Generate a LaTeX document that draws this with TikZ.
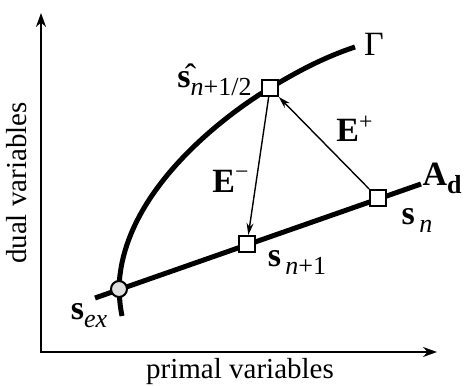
\documentclass[tikz,border=0pt]{standalone}
\usepackage{fontspec}
\setmainfont{Liberation Serif}
\usetikzlibrary{arrows.meta}
\newcommand{\lowsub}[1]{\raisebox{-4pt}{\fontsize{13}{15}\selectfont #1}}
\tikzset{
  state/.style={draw,fill=white,line width=1pt,minimum size=8pt,inner sep=0pt},
  lbl/.style={font=\fontsize{14.5}{17}\selectfont,inner sep=1pt},
  sym/.style={font=\fontsize{17}{19}\selectfont,inner sep=1pt},
  step arrow/.style={line width=0.7pt,-{Stealth[length=6pt,width=3.5pt]}}
}
\begin{document}
\begin{tikzpicture}[x=0.5pt,y=0.5pt]
  \useasboundingbox (0,0) rectangle (464,385);
  % axes
  \coordinate (o) at (41,33);
  \coordinate (ytop) at (41,372);
  \coordinate (xend) at (437,33);
  \draw[line width=1pt,{Stealth[length=7pt,width=5pt]}-{Stealth[length=7pt,width=5pt]}] (ytop) |- (xend);
  \node[lbl,rotate=90] (ylab) at (17,202) {dual variables};
  \node[lbl] (xlab) at (240,13) {primal variables};
  % the two curves
  \coordinate (pex) at (119,96);
  \coordinate (phat) at (270,297);
  \coordinate (pn) at (378,187);
  \coordinate (pn1) at (247,141);
  \draw[line width=2.5pt] (122,69) .. controls (120,80) .. (pex)
    .. controls (121,195) and (230,273) .. (phat)
    .. controls (300,315) and (325,328) .. (355,338);
  \draw[line width=2.5pt] (95,87) -- (421,201);
  \node[sym] (gamma) at (374,341) {Γ};
  \node[sym] (ad) at (442,207) {\textbf{A}\lowsub{\textbf{d}}};
  % states
  \node[state,circle,fill=black!13] (sex) at (pex) {};
  \node[state] (shat) at (phat) {};
  \node[state] (sn) at (pn) {};
  \node[state] (sn1) at (pn1) {};
  \node[sym,anchor=east] (lshat) at (254,305) {\^{\textbf{s}}\lowsub{\textit{n}+1/2}};
  \node[sym] (lsn) at (417,165) {\textbf{s}\lowsub{\,\textit{n}}};
  \node[sym] (lsn1) at (297,123) {\textbf{s}\lowsub{\,\textit{n}+1}};
  \node[sym] (lsex) at (89,69) {\textbf{s}\lowsub{\textit{ex}}};
  % E+ and E- steps
  \draw[step arrow] (sn) -- (shat);
  \draw[step arrow] (shat) -- (sn1);
  \node[sym] (eplus) at (355,256) {\textbf{E}\textsuperscript{+}};
  \node[sym] (eminus) at (231,204) {\textbf{E}\textsuperscript{−}};
\end{tikzpicture}
\end{document}
